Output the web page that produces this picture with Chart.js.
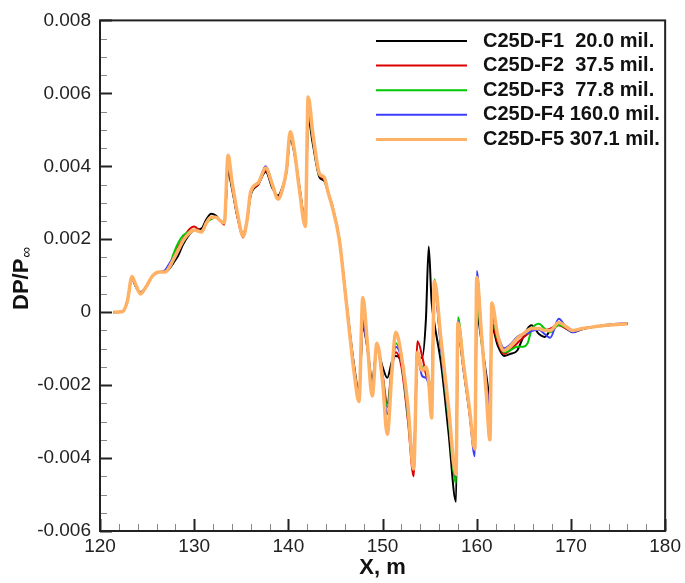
<!DOCTYPE html>
<html>
<head>
<meta charset="utf-8">
<script src="https://cdn.jsdelivr.net/npm/chart.js@4"></script>
<style>
  body { margin: 0; background: #fff; }
  canvas { display: block; }
</style>
</head>
<body>
<canvas id="chart" width="685" height="583"></canvas>
<script>
// X位置 (m)
const xPos = [121.4, 122.4, 122.9, 123.4, 123.8, 124.3, 124.9, 125.6, 126.3, 126.9,
  127.4, 127.8, 128.3, 128.8, 129.4, 130.0, 130.8, 131.3, 131.8, 132.3,
  132.8, 133.2, 133.6, 134.0, 134.6, 135.2, 135.6, 136.0, 136.8, 137.6,
  138.3, 138.9, 139.4, 139.8, 140.2, 140.6, 141.2, 141.8, 142.1, 142.6,
  143.3, 143.8, 144.2, 144.7, 145.4, 146.2, 147.0, 147.5, 147.9, 148.4,
  148.9, 149.4, 150.0, 150.5, 151.0, 151.4, 152.0, 152.7, 153.3, 153.7,
  154.2, 154.6, 154.9, 155.2, 155.5, 156.2, 157.0, 157.8, 158.0, 158.6,
  159.2, 159.8, 160.0, 160.5, 161.0, 161.4, 161.6, 162.2, 162.9, 163.5,
  164.3, 164.9, 165.4, 165.8, 166.6, 167.2, 167.8, 168.7, 169.5, 170.2,
  171.2, 172.5, 174.0, 176.0];

// DP/P∞ の値 (単位 1e-3)
const f1 = [0, 0.02, 0.3, 0.9, 0.7, 0.55, 0.7, 1.0, 1.1, 1.1,
  1.2, 1.35, 1.55, 1.85, 2.1, 2.25, 2.3, 2.55, 2.7, 2.65,
  2.5, 2.45, 3.85, 3.4, 2.6, 2.15, 2.5, 3.2, 3.5, 3.85,
  3.4, 3.2, 3.45, 3.85, 4.75, 4.4, 3.4, 2.5, 5.3, 4.6,
  3.7, 3.6, 3.3, 2.9, 2.0, 0.2, -1.5, -2.2, -0.4, -1.0,
  -1.85, -1.0, -1.5, -1.8, -1.35, -1.2, -1.4, -2.8, -4.1, -1.25,
  -1.25, -0.2, 1.8, 0.3, -0.3, -1.4, -3.3, -5.2, -0.6, -1.6,
  -2.7, -3.7, -0.05, -0.8, -1.7, -2.3, -0.4, -0.9, -1.2, -1.15,
  -1.05, -0.7, -0.45, -0.36, -0.6, -0.68, -0.5, -0.32, -0.45, -0.55,
  -0.47, -0.4, -0.36, -0.32];
const f2 = [0, 0.02, 0.3, 0.95, 0.72, 0.52, 0.7, 1.0, 1.1, 1.1,
  1.25, 1.5, 1.8, 2.0, 2.25, 2.35, 2.2, 2.45, 2.6, 2.6,
  2.5, 2.4, 4.0, 3.5, 2.6, 2.05, 2.5, 3.25, 3.5, 3.9,
  3.45, 3.15, 3.4, 3.85, 4.85, 4.45, 3.35, 2.45, 5.6, 4.75,
  3.75, 3.65, 3.3, 2.85, 2.0, 0.15, -1.6, -2.3, -0.3, -1.0,
  -2.1, -0.95, -1.7, -2.5, -1.5, -1.1, -1.5, -3.0, -4.5, -0.8,
  -1.2, -1.7, -1.9, -2.2, 0.6, -0.9, -2.7, -4.6, -0.4, -1.5,
  -2.7, -3.8, 0.6, -0.7, -1.9, -2.6, -0.3, -0.8, -1.15, -1.05,
  -0.85, -0.7, -0.6, -0.5, -0.45, -0.5, -0.45, -0.36, -0.45, -0.5,
  -0.45, -0.4, -0.36, -0.32];
const f3 = [0, 0.02, 0.3, 0.95, 0.72, 0.52, 0.7, 1.0, 1.1, 1.1,
  1.3, 1.6, 1.9, 2.1, 2.2, 2.25, 2.2, 2.45, 2.55, 2.6,
  2.5, 2.45, 4.1, 3.5, 2.65, 2.1, 2.5, 3.25, 3.55, 3.95,
  3.5, 3.1, 3.4, 3.9, 4.85, 4.45, 3.35, 2.4, 5.5, 4.75,
  3.75, 3.7, 3.3, 2.85, 2.0, 0.15, -1.6, -2.35, -0.2, -1.0,
  -2.1, -0.9, -1.8, -2.6, -1.5, -0.85, -1.3, -2.9, -4.2, -1.4,
  -1.5, -1.6, -1.8, -2.3, 0.9, -1.0, -2.9, -4.7, -0.14, -1.4,
  -2.6, -3.8, 0.4, -0.8, -2.0, -2.8, -0.1, -0.7, -1.1, -1.05,
  -0.95, -0.95, -0.85, -0.5, -0.32, -0.45, -0.55, -0.35, -0.42, -0.5,
  -0.45, -0.4, -0.35, -0.32];
const f4 = [0, 0.02, 0.3, 0.95, 0.72, 0.52, 0.7, 1.0, 1.1, 1.15,
  1.35, 1.5, 1.7, 1.95, 2.15, 2.25, 2.2, 2.45, 2.6, 2.6,
  2.5, 2.45, 4.15, 3.55, 2.65, 2.1, 2.5, 3.3, 3.55, 4.0,
  3.5, 3.1, 3.4, 3.9, 4.95, 4.5, 3.35, 2.4, 5.6, 4.8,
  3.8, 3.7, 3.3, 2.85, 2.0, 0.15, -1.6, -2.35, -0.3, -1.0,
  -2.1, -0.9, -1.9, -2.8, -1.6, -0.95, -1.3, -2.8, -4.0, -1.2,
  -1.75, -1.8, -2.0, -2.4, 0.7, -1.0, -2.8, -4.5, -0.25, -1.5,
  -2.7, -3.95, 1.13, -0.6, -1.9, -2.7, 0.0, -0.6, -0.99, -0.9,
  -0.68, -0.6, -0.58, -0.52, -0.48, -0.6, -0.7, -0.18, -0.42, -0.55,
  -0.45, -0.4, -0.34, -0.3];
const f5 = [0, 0.02, 0.3, 0.98, 0.75, 0.5, 0.7, 1.0, 1.1, 1.1,
  1.25, 1.45, 1.7, 1.95, 2.15, 2.25, 2.2, 2.45, 2.6, 2.6,
  2.5, 2.45, 4.3, 3.6, 2.7, 2.08, 2.5, 3.3, 3.55, 3.95,
  3.5, 3.1, 3.4, 3.9, 4.95, 4.5, 3.3, 2.35, 5.9, 4.9,
  3.8, 3.7, 3.3, 2.85, 2.0, 0.15, -1.7, -2.45, 0.4, -0.9,
  -2.3, -0.85, -1.9, -3.35, -1.6, -0.55, -1.2, -2.6, -4.3, -1.1,
  -1.6, -1.5, -1.9, -2.9, 0.85, -0.75, -2.6, -4.45, -0.3, -1.45,
  -2.6, -3.75, 0.95, -0.6, -2.2, -3.5, 0.25, -0.6, -1.05, -0.95,
  -0.72, -0.6, -0.5, -0.45, -0.45, -0.5, -0.5, -0.28, -0.4, -0.5,
  -0.45, -0.4, -0.35, -0.32];

const seriesNames = ["C25D-F1", "C25D-F2", "C25D-F3", "C25D-F4", "C25D-F5"];
const legendTexts = ["C25D-F1  20.0 mil.", "C25D-F2  37.5 mil.", "C25D-F3  77.8 mil.", "C25D-F4 160.0 mil.", "C25D-F5 307.1 mil."];
const seriesValues = [f1, f2, f3, f4, f5];
const colors = ["#000000", "#dd0000", "#00c800", "#3c3cff", "#ffb266"];
const widths = [2, 2, 2, 2, 3.5];

const FONT = "'Liberation Sans', Arial, Helvetica, sans-serif";

// データセット作成 (F5 を一番上に描く)
const datasets = seriesValues.map((vals, i) => ({
  label: seriesNames[i],
  data: vals.map((v, k) => ({ x: xPos[k], y: v / 1000 })),
  borderColor: colors[i],
  borderWidth: widths[i],
  pointRadius: 0,
  fill: false,
  cubicInterpolationMode: 'monotone',
  order: 4 - i
}));

// 枠・内向き目盛り・凡例・縦軸タイトルを描くプラグイン
const decorPlugin = {
  id: 'decor',
  afterDraw(chart) {
    const ctx = chart.ctx;
    const area = chart.chartArea;
    const xs = chart.scales.x;
    const ys = chart.scales.y;
    ctx.save();

    // 目盛り (x: 2刻み, y: 0.0005刻み)
    for (let v = 120; v <= 180; v += 2) {
      const px = Math.round(xs.getPixelForValue(v)) + 0.5;
      const major = v % 10 === 0;
      ctx.lineWidth = major ? 2 : 1;
      ctx.strokeStyle = major ? '#222' : '#888';
      ctx.beginPath();
      ctx.moveTo(px, area.bottom);
      ctx.lineTo(px, area.bottom - (major ? 12 : 7));
      ctx.stroke();
    }
    for (let i = -12; i <= 16; i++) {
      const py = Math.round(ys.getPixelForValue(i * 0.0005)) + 0.5;
      const major = i % 4 === 0;
      ctx.lineWidth = major ? 2 : 1;
      ctx.strokeStyle = major ? '#222' : '#888';
      ctx.beginPath();
      ctx.moveTo(area.left, py);
      ctx.lineTo(area.left + (major ? 12 : 7), py);
      ctx.stroke();
    }

    // 枠
    ctx.lineWidth = 2;
    ctx.strokeStyle = '#222';
    ctx.strokeRect(area.left, area.top, area.right - area.left, area.bottom - area.top);

    // 凡例
    ctx.font = 'bold 20px ' + FONT;
    ctx.textBaseline = 'middle';
    ctx.textAlign = 'left';
    legendTexts.forEach((text, i) => {
      const y = 41 + i * 24.6;
      ctx.strokeStyle = colors[i];
      ctx.lineWidth = i === 4 ? 3 : 2;
      ctx.beginPath();
      ctx.moveTo(376, y);
      ctx.lineTo(467, y);
      ctx.stroke();
      ctx.fillStyle = '#111';
      ctx.fillText(text, 483, y);
    });

    // 縦軸タイトル DP/P∞
    ctx.translate(22, 310);
    ctx.rotate(-Math.PI / 2);
    ctx.fillStyle = '#111';
    ctx.textAlign = 'left';
    ctx.textBaseline = 'middle';
    ctx.font = 'bold 22px ' + FONT;
    ctx.fillText('DP/P', 0, 0);
    const w = ctx.measureText('DP/P').width;
    ctx.font = '15px ' + FONT;
    ctx.fillText('\u221e', w + 1, 5);
    ctx.restore();
  }
};

new Chart(document.getElementById('chart'), {
  type: 'line',
  data: { datasets },
  options: {
    responsive: false,
    animation: false,
    layout: { padding: { left: 0, top: 15, right: 18, bottom: 0 } },
    plugins: {
      legend: { display: false },
      tooltip: { enabled: false }
    },
    scales: {
      x: {
        type: 'linear',
        min: 120,
        max: 180,
        ticks: { stepSize: 10, color: '#222', font: { size: 19, family: FONT }, padding: 4, maxRotation: 0 },
        grid: { drawOnChartArea: false, drawTicks: false },
        border: { display: false },
        title: { display: true, text: 'X, m', color: '#111', font: { size: 22, weight: 'bold', family: FONT }, padding: { top: 0, bottom: 2 } },
        afterFit: s => { s.height = 52; }
      },
      y: {
        type: 'linear',
        min: -0.006,
        max: 0.008,
        ticks: {
          stepSize: 0.002,
          color: '#222',
          font: { size: 19, family: FONT },
          padding: 9,
          callback: v => Math.abs(v) < 1e-9 ? '0' : v.toFixed(3)
        },
        grid: { drawOnChartArea: false, drawTicks: false },
        border: { display: false },
        afterFit: s => { s.width = 100; }
      }
    }
  },
  plugins: [decorPlugin]
});
</script>
</body>
</html>
